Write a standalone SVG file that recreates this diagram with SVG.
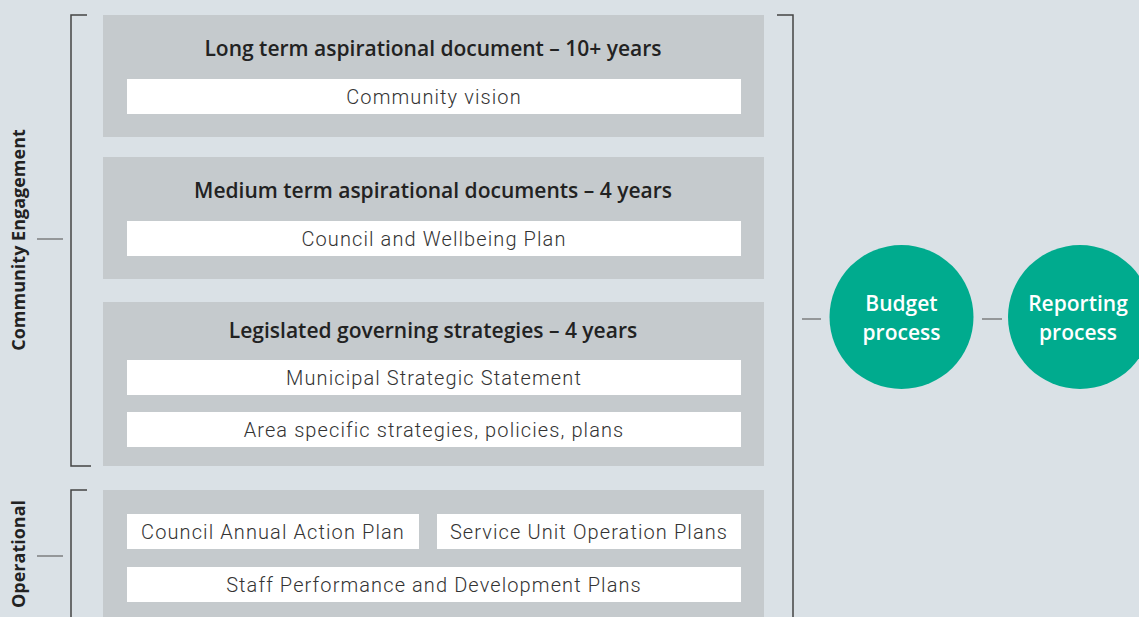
<svg xmlns="http://www.w3.org/2000/svg" width="1139" height="617" viewBox="0 0 1139 617">
<style>
.bg{fill:#dae1e6}
.panel{fill:#c5cacd}
.item{fill:#ffffff}
.title{font-family:"Open Sans",sans-serif;font-weight:600;font-size:21px;fill:#222;text-anchor:middle}
.lbl{font-family:Roboto,sans-serif;font-weight:300;font-size:20px;letter-spacing:1.1px;fill:#333;text-anchor:middle}
.side{font-family:"Open Sans",sans-serif;font-weight:700;font-size:18px;fill:#222;text-anchor:middle}
.circ{fill:#00ab8e}
.ctext{font-family:"Open Sans",sans-serif;font-weight:600;font-size:21px;fill:#fff;text-anchor:middle}
.br{fill:none;stroke:#444;stroke-width:1.5}
.tick{fill:none;stroke:#666;stroke-width:1.2}
</style>
<rect class="bg" x="0" y="0" width="1139" height="617"/>
<g id="side-labels">
<text class="side" transform="translate(25,240) rotate(-90)">Community Engagement</text>
<text class="side" transform="translate(25,554) rotate(-90)">Operational</text>
</g>
<g id="connectors">
<path class="br" d="M87,15 H71 V466 H91"/>
<path class="br" d="M87,490 H71 V617"/>
<path class="br" d="M777,15 H793 V617"/>
<path class="tick" d="M37,239 H63"/>
<path class="tick" d="M37,556 H63"/>
<path class="tick" d="M802,319 H821"/>
<path class="tick" d="M982,319 H1002"/>
</g>
<g id="long-term">
<rect class="panel" x="103" y="15" width="661" height="122"/>
<text class="title" x="433" y="56">Long term aspirational document – 10+ years</text>
<rect class="item" x="127" y="79" width="614" height="35"/>
<text class="lbl" x="434" y="104">Community vision</text>
</g>
<g id="medium-term">
<rect class="panel" x="103" y="157" width="661" height="122"/>
<text class="title" x="433" y="198">Medium term aspirational documents – 4 years</text>
<rect class="item" x="127" y="221" width="614" height="35"/>
<text class="lbl" x="434" y="246">Council and Wellbeing Plan</text>
</g>
<g id="legislated">
<rect class="panel" x="103" y="302" width="661" height="164"/>
<text class="title" x="433" y="338">Legislated governing strategies – 4 years</text>
<rect class="item" x="127" y="360" width="614" height="35"/>
<text class="lbl" x="434" y="385">Municipal Strategic Statement</text>
<rect class="item" x="127" y="412" width="614" height="35"/>
<text class="lbl" x="434" y="437">Area specific strategies, policies, plans</text>
</g>
<g id="operational">
<rect class="panel" x="103" y="490" width="661" height="140"/>
<rect class="item" x="127" y="514" width="292" height="35"/>
<text class="lbl" x="273" y="539">Council Annual Action Plan</text>
<rect class="item" x="437" y="514" width="304" height="35"/>
<text class="lbl" x="589" y="539">Service Unit Operation Plans</text>
<rect class="item" x="127" y="567" width="614" height="35"/>
<text class="lbl" x="434" y="592">Staff Performance and Development Plans</text>
</g>
<g id="budget">
<circle class="circ" cx="901.5" cy="317" r="72"/>
<text class="ctext" x="901.5" y="311">Budget</text>
<text class="ctext" x="901.5" y="340">process</text>
</g>
<g id="reporting">
<circle class="circ" cx="1080" cy="317" r="72"/>
<text class="ctext" x="1078" y="311">Reporting</text>
<text class="ctext" x="1078" y="340">process</text>
</g>
</svg>
